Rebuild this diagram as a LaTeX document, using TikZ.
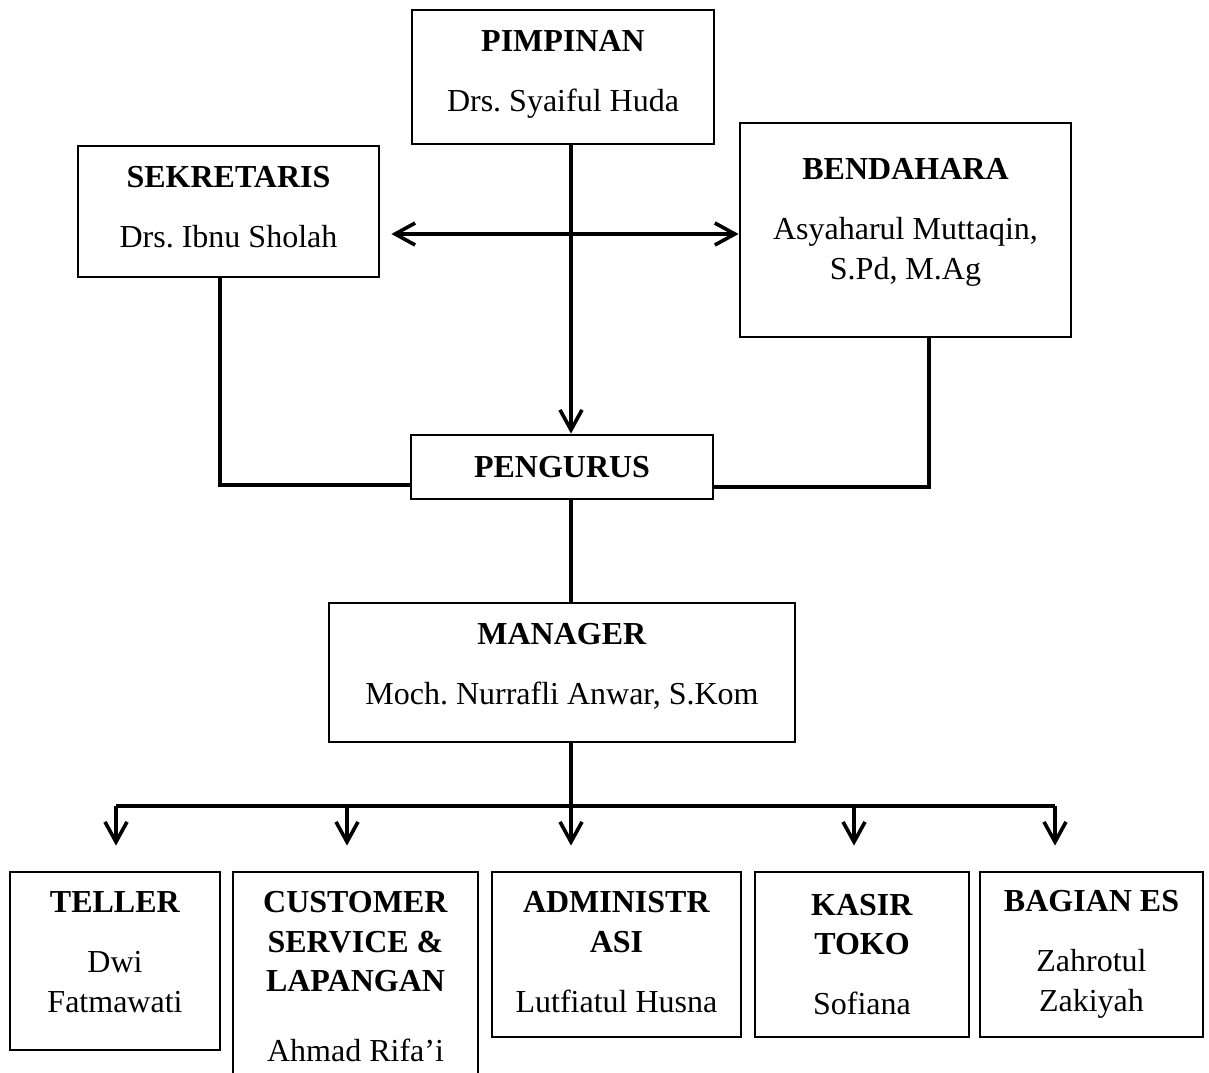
\documentclass[tikz,border=0pt]{standalone}
\usepackage{fontspec}
\setmainfont{Liberation Serif}
\usetikzlibrary{arrows.meta}
\frenchspacing

\begin{document}
\begin{tikzpicture}[x=0.5pt, y=-0.5pt, line width=1.8pt, >={Straight Barb[length=10pt, width=11pt]},
	box/.style={draw, line width=1.4pt, align=center, inner sep=0pt, font=\fontsize{16}{19.75}\selectfont}]
	\useasboundingbox (0, 0) rectangle (1209, 1072);
	\node[box, minimum width=151pt, minimum height=67pt, text depth=6.5pt] (pimpinan) at (563, 77) {\textbf{PIMPINAN}\\[10.25pt]Drs. Syaiful Huda};
	\node[box, minimum width=150.5pt, minimum height=65.5pt, text depth=4.5pt] (sekretaris) at (228.5, 211.5) {\textbf{SEKRETARIS}\\[10.25pt]Drs. Ibnu Sholah};
	\node[box, minimum width=165.5pt, minimum height=107pt, text depth=11pt] (bendahara) at (905.5, 230) {\textbf{BENDAHARA}\\[10.25pt]Asyaharul Muttaqin,\\S.Pd, M.Ag};
	\node[box, minimum width=151pt, minimum height=32pt] (pengurus) at (562, 467) {\textbf{PENGURUS}};
	\node[box, minimum width=233pt, minimum height=69.5pt, text depth=8.7pt] (manager) at (562, 672.5) {\textbf{MANAGER}\\[10.25pt]Moch. Nurrafli Anwar, S.Kom};
	\node[box, minimum width=105pt, minimum height=89pt, text depth=9pt] (teller) at (115, 961) {\textbf{TELLER}\\[10.25pt]Dwi\\Fatmawati};
	\node[box, minimum width=122.5pt, minimum height=105pt] (customer) at (355.5, 977) {\textbf{CUSTOMER}\\\textbf{SERVICE \&}\\\textbf{LAPANGAN}\\[15.25pt]Ahmad Rifa'i};
	\node[box, minimum width=124.5pt, minimum height=82.5pt, text depth=2.5pt] (admin) at (616.5, 954.5) {\textbf{ADMINISTR}\\\textbf{ASI}\\[10.25pt]Lutfiatul Husna};
	\node[box, minimum width=107pt, minimum height=82.5pt] (kasir) at (862, 954.5) {\textbf{KASIR}\\\textbf{TOKO}\\[10.25pt]Sofiana};
	\node[box, minimum width=111.5pt, minimum height=82.5pt] (bagian) at (1091.5, 954.5) {\textbf{BAGIAN ES}\\[10.25pt]Zahrotul\\Zakiyah};
	\coordinate (axis) at (571, 0);
	\coordinate (link) at (0, 234);
	\coordinate (sekleg) at (220, 485);
	\coordinate (benleg) at (929, 487);
	\coordinate (d1) at (116, 806);
	\coordinate (d2) at (347, 806);
	\coordinate (d3) at (571, 806);
	\coordinate (d4) at (854, 806);
	\coordinate (d5) at (1055, 806);
	\draw[->] (pimpinan.south -| axis) -- (pengurus.north -| axis);
	\draw[<->] ([xshift=5.5pt]sekretaris.east |- link) -- (bendahara.west |- link);
	\draw (sekretaris.south -| sekleg) |- (pengurus.west |- sekleg);
	\draw (bendahara.south -| benleg) |- (pengurus.east |- benleg);
	\draw (pengurus.south -| axis) -- (manager.north -| axis);
	\draw (manager.south -| axis) -- (d3);
	\draw[line width=2.2pt] (d1) -- (d5);
	\draw[->] (d1) -- ([yshift=12.5pt]teller.north -| d1);
	\draw[->] (d2) -- ([yshift=12.5pt]customer.north -| d2);
	\draw[->] (d3) -- ([yshift=12.5pt]admin.north -| d3);
	\draw[->] (d4) -- ([yshift=12.5pt]kasir.north -| d4);
	\draw[->] (d5) -- ([yshift=12.5pt]bagian.north -| d5);
\end{tikzpicture}
\end{document}
